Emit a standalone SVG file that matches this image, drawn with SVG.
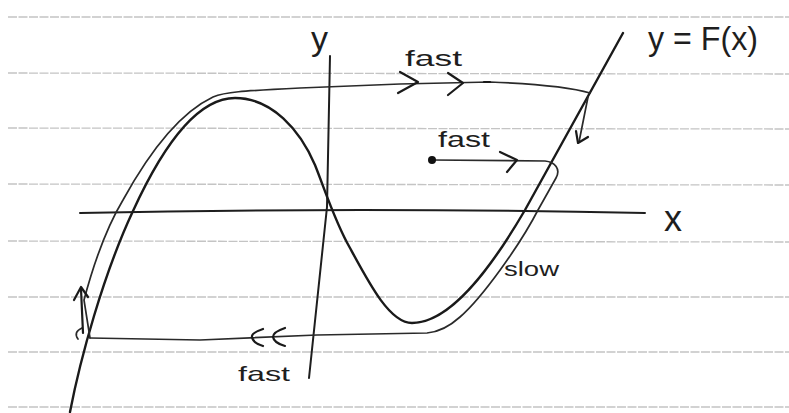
<svg xmlns="http://www.w3.org/2000/svg" width="789" height="413" viewBox="0 0 789 413">
<style>
.rule{stroke:#c4c4c4;stroke-width:1.3;fill:none;stroke-dasharray:9 1.5}
.axis{stroke:#1e1e1e;stroke-width:2;fill:none;stroke-linecap:round}
.curve{stroke:#1a1a1a;stroke-width:2.4;fill:none;stroke-linecap:round;stroke-linejoin:round}
.traj{stroke:#2a2a2a;stroke-width:1.7;fill:none;stroke-linecap:round;stroke-linejoin:round}
.head{stroke:#1a1a1a;stroke-width:2.2;fill:none;stroke-linecap:round;stroke-linejoin:round}
.lbl{font-family:"Liberation Sans","DejaVu Sans",sans-serif;fill:#1e1e1e}
</style>
<rect width="789" height="413" fill="#ffffff"/>
<g id="paper">
<line class="rule" x1="8" y1="17" x2="789" y2="17"/>
<line class="rule" x1="8" y1="73" x2="789" y2="74"/>
<line class="rule" x1="8" y1="128" x2="789" y2="129"/>
<line class="rule" x1="8" y1="184" x2="789" y2="185"/>
<line class="rule" x1="8" y1="241" x2="789" y2="242"/>
<line class="rule" x1="8" y1="297" x2="789" y2="297"/>
<line class="rule" x1="8" y1="352" x2="789" y2="352"/>
<line class="rule" x1="8" y1="407" x2="789" y2="407"/>
</g>
<g id="axes">
<path class="axis" d="M80 213 Q360 207 645 213"/>
<path class="axis" d="M330 56 L327 207 L309 378"/>
<text class="lbl" x="311" y="50" font-size="34">y</text>
<text class="lbl" x="664" y="231" font-size="36">x</text>
</g>
<g id="nullcline">
<path class="curve" d="M70 412 C80 360 103 275 133 211 C160 152 195 98 235 98 C272 98 300 130 315 165 C325 190 335 222 350 248 C370 285 390 323 412 323 C450 323 490 270 525 210 L623 33"/>
<text class="lbl" x="648" y="50" font-size="34" textLength="110" lengthAdjust="spacingAndGlyphs">y = F(x)</text>
</g>
<g id="trajectory">
<path class="traj" d="M432 160 L545 161 C555 162 561 169 556 178 L538 210 C520 245 482 298 460 317 C450 326 440 332 427 333 L317 335 L200 340 L90 338"/>
<path class="traj" d="M90 338 L84 300 C92 270 105 230 123 200 C145 160 175 115 213 97 C225 92 240 91 300 88 L400 84 L490 82 C540 84 570 87 590 93"/>
<circle cx="432" cy="160" r="4" fill="#111"/>
<path class="traj" d="M82 328 Q73 332 78 339"/>
</g>
<g id="arrows">
<path class="head" d="M400 72 L418 82 L398 93"/>
<path class="head" d="M448 73 L463 83 L448 95"/>
<path class="head" d="M484 82 L490 82"/>
<path class="head" d="M500 152 L517 160 L507 172"/>
<path class="traj" d="M588 97 L579 142"/>
<path class="head" d="M576 131 L578 143 L588 137"/>
<path class="head" d="M263 329 Q251 333 252 337 Q253 343 263 346"/>
<path class="head" d="M285 328 Q273 332 273 337 Q274 343 285 346"/>
<path class="head" d="M83 333 L81 289"/>
<path class="head" d="M74 300 L81 287 L88 297"/>
</g>
<g id="labels">
<text class="lbl" x="405" y="66" font-size="22" textLength="57" lengthAdjust="spacingAndGlyphs">fast</text>
<text class="lbl" x="438" y="147" font-size="22" textLength="52" lengthAdjust="spacingAndGlyphs">fast</text>
<text class="lbl" x="504" y="276" font-size="20" textLength="55" lengthAdjust="spacingAndGlyphs">slow</text>
<text class="lbl" x="238" y="381" font-size="21" textLength="52" lengthAdjust="spacingAndGlyphs">fast</text>
</g>
</svg>
